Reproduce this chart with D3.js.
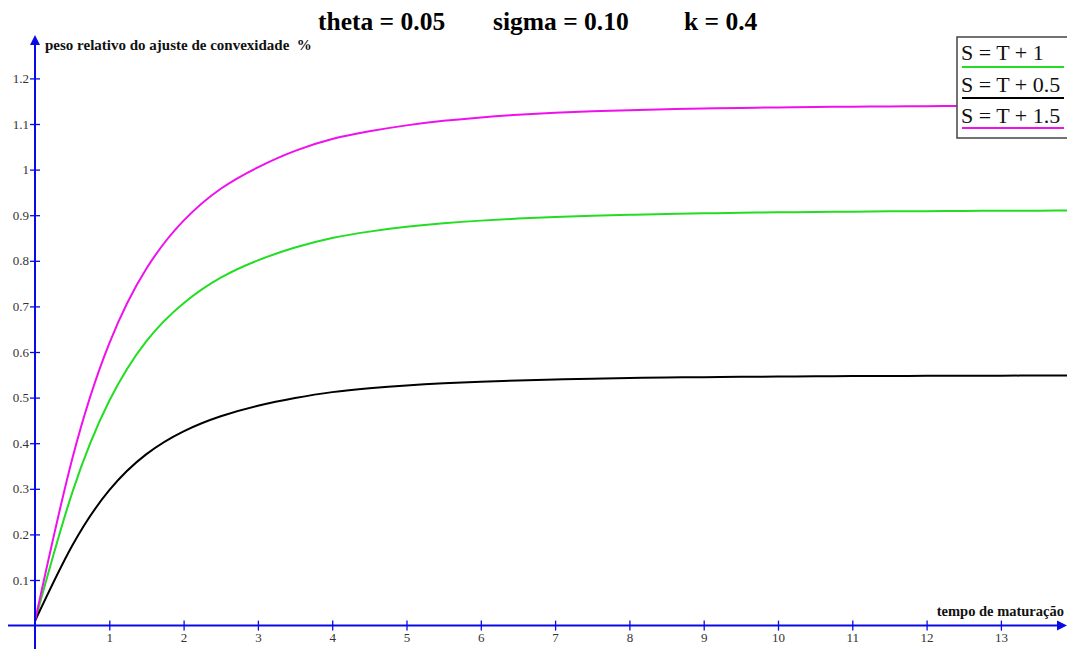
<!DOCTYPE html>
<html>
<head>
<meta charset="utf-8">
<script src="https://cdn.jsdelivr.net/npm/d3@7"></script>
<style>
  html, body { margin: 0; padding: 0; background: #fff; }
  svg { display: block; }
  text { white-space: pre; }
</style>
</head>
<body>
<svg id="chart" width="1067" height="649"></svg>
<script>
// Maturity grid (years, half-year steps) and relative weight of the convexity adjustment (%)
const maturities = [0, 0.5, 1, 1.5, 2, 2.5, 3, 3.5, 4, 4.5, 5, 5.5, 6, 6.5, 7, 7.5, 8, 8.5, 9, 9.5, 10, 10.5, 11, 11.5, 12, 12.5, 13, 13.5, 14];
const weightS1  = [0.010, 0.291, 0.493, 0.624, 0.707, 0.763, 0.801, 0.829, 0.850, 0.864, 0.8745, 0.8823, 0.8881, 0.8925, 0.8959, 0.8986, 0.9008, 0.9026, 0.9041, 0.9053, 0.9063, 0.9071, 0.9078, 0.9084, 0.9089, 0.9093, 0.9097, 0.9100, 0.9103];
const weightS05 = [0.010, 0.175, 0.297, 0.376, 0.426, 0.459, 0.482, 0.499, 0.512, 0.5205, 0.5268, 0.5315, 0.5350, 0.5377, 0.5398, 0.5415, 0.5429, 0.5440, 0.5449, 0.5456, 0.5462, 0.5467, 0.5471, 0.5474, 0.5477, 0.5479, 0.5481, 0.5483, 0.5484];
const weightS15 = [0.010, 0.365, 0.619, 0.783, 0.888, 0.958, 1.005, 1.041, 1.067, 1.084, 1.097, 1.107, 1.1145, 1.1202, 1.1245, 1.1278, 1.1304, 1.1324, 1.134, 1.1353, 1.1364, 1.1373, 1.138, 1.1386, 1.1391, 1.1395, 1.1398, 1.1401, 1.1403];

const seriesNames  = ["S = T + 1", "S = T + 0.5", "S = T + 1.5"];
const seriesColors = ["#22dd22", "#000000", "#ee11ee"];
const seriesValues = [weightS1, weightS05, weightS15];

const xTicks = [1, 2, 3, 4, 5, 6, 7, 8, 9, 10, 11, 12, 13];
const yTicks = [0.1, 0.2, 0.3, 0.4, 0.5, 0.6, 0.7, 0.8, 0.9, 1, 1.1, 1.2];

const titleParts = ["theta = 0.05", "sigma = 0.10", "k = 0.4"];
const yLabel = "peso relativo do ajuste de convexidade  %";
const xLabel = "tempo de maturação";

const svg = d3.select("#chart");
const axisColor = "#0a0ae6";
const serif = "'Liberation Serif', 'DejaVu Serif', serif";

const x = d3.scaleLinear().domain([0, 13]).range([35, 1000.9]);
const y = d3.scaleLinear().domain([0, 1.2]).range([625.6, 78.4]);

// Curves (natural spline through the evenly spaced samples)
const line = d3.line()
  .x(d => x(d[0]))
  .y(d => y(d[1]))
  .curve(d3.curveNatural);

seriesValues.forEach((vals, i) => {
  svg.append("path")
    .datum(maturities.map((t, j) => [t, vals[j]]))
    .attr("d", line)
    .attr("fill", "none")
    .attr("stroke", seriesColors[i])
    .attr("stroke-width", 2);
});

// X axis
const xAxis = d3.axisBottom(x)
  .tickValues(xTicks)
  .tickFormat(d3.format("d"))
  .tickSizeInner(5)
  .tickSizeOuter(0);

const gx = svg.append("g")
  .attr("transform", `translate(0,${y(0)})`)
  .call(xAxis);
gx.select(".domain").remove();
gx.selectAll(".tick line")
  .attr("y1", -5).attr("y2", 5)
  .attr("stroke", axisColor).attr("stroke-width", 1.3);
gx.selectAll(".tick text")
  .attr("y", 7)
  .attr("fill", "#333")
  .style("font-family", serif)
  .style("font-size", "13px");

// Y axis
const yAxis = d3.axisLeft(y)
  .tickValues(yTicks)
  .tickFormat(d3.format("~g"))
  .tickSizeInner(5)
  .tickSizeOuter(0);

const gy = svg.append("g")
  .attr("transform", `translate(${x(0)},0)`)
  .call(yAxis);
gy.select(".domain").remove();
gy.selectAll(".tick line")
  .attr("x1", -5).attr("x2", 5)
  .attr("stroke", axisColor).attr("stroke-width", 1.3);
gy.selectAll(".tick text")
  .attr("x", -6)
  .attr("fill", "#333")
  .style("font-family", serif)
  .style("font-size", "13px");

// Axis lines with arrowheads
svg.append("line")
  .attr("x1", 8).attr("x2", 1060)
  .attr("y1", y(0)).attr("y2", y(0))
  .attr("stroke", axisColor).attr("stroke-width", 2);
svg.append("path")
  .attr("d", `M1067,${y(0)} L1057,${y(0) - 5} L1057,${y(0) + 5} Z`)
  .attr("fill", axisColor);

svg.append("line")
  .attr("x1", x(0)).attr("x2", x(0))
  .attr("y1", 42).attr("y2", 649)
  .attr("stroke", axisColor).attr("stroke-width", 2);
svg.append("path")
  .attr("d", `M${x(0)},35 L${x(0) - 5},45 L${x(0) + 5},45 Z`)
  .attr("fill", axisColor);

// Axis labels
svg.append("text")
  .attr("x", 45).attr("y", 50)
  .attr("fill", "#111")
  .style("font-family", serif)
  .style("font-weight", "bold")
  .style("font-size", "15px")
  .text(yLabel);

svg.append("text")
  .attr("x", 1064).attr("y", 616)
  .attr("text-anchor", "end")
  .attr("fill", "#111")
  .style("font-family", serif)
  .style("font-weight", "bold")
  .style("font-size", "14.5px")
  .text(xLabel);

// Title
const titleX = [318, 493, 684];
titleParts.forEach((t, i) => {
  svg.append("text")
    .attr("x", titleX[i]).attr("y", 30)
    .attr("fill", "#000")
    .style("font-family", serif)
    .style("font-weight", "bold")
    .style("font-size", "25.5px")
    .text(t);
});

// Legend
const legend = svg.append("g");
legend.append("rect")
  .attr("x", 957).attr("y", 37)
  .attr("width", 115).attr("height", 101)
  .attr("fill", "#fff")
  .attr("stroke", "#444")
  .attr("stroke-width", 1.5);

const legendBase = [60, 92, 123];
const legendLine = [67, 98, 128];
seriesNames.forEach((name, i) => {
  legend.append("text")
    .attr("x", 961).attr("y", legendBase[i])
    .attr("fill", "#111")
    .style("font-family", serif)
    .style("font-size", "22px")
    .text(name);
  legend.append("line")
    .attr("x1", 962).attr("x2", 1064)
    .attr("y1", legendLine[i]).attr("y2", legendLine[i])
    .attr("stroke", seriesColors[i])
    .attr("stroke-width", 2);
});
</script>
</body>
</html>
